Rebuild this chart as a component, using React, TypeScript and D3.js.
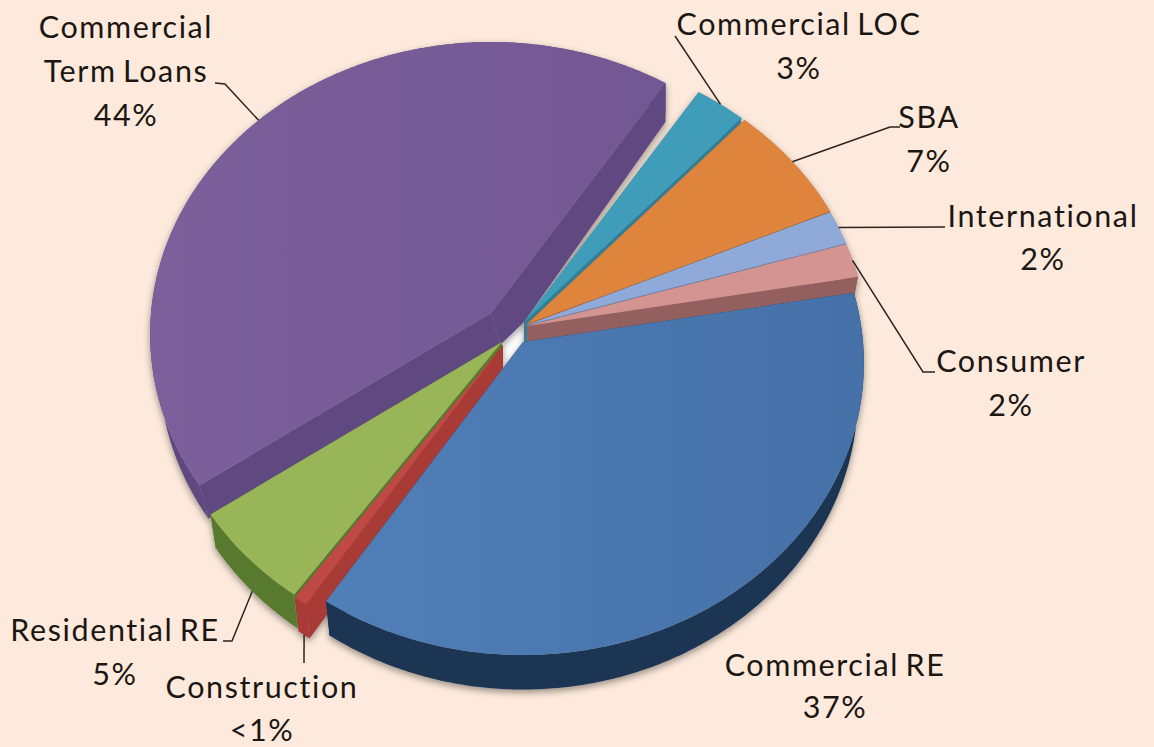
import React from "react";
import * as d3 from "d3";

// Data, clockwise from the start of the first slice
const categories = ["Commercial Term Loans", "Commercial LOC", "SBA", "International", "Consumer", "Commercial RE", "Construction", "Residential RE"];
const shares = [43.8, 2.6, 6.7, 1.9, 1.9, 36.9, 0.6, 5.6];
const percentLabels = ["44%", "3%", "7%", "2%", "2%", "37%", "<1%", "5%"];
const labelLines = [["Commercial", "Term Loans"], ["Commercial LOC"], ["SBA"], ["International"], ["Consumer"], ["Commercial RE"], ["Construction"], ["Residential RE"]];

// Styles
const topColors = ["#775c96", "#3f9db9", "#de843d", "#8fa9d8", "#d39492", "#4a76ae", "#bf4a45", "#98b558"];
const wallColors = ["#5f4880", "#2f7f97", "#a9602a", "#6d84ad", "#93605f", "#1b3453", "#a83a35", "#587a2d"];

// Layout
const W = 1154, H = 747;
const BASE = { x: 523, y: 325 };
const RX = 340, RY = 290.5, K = 0.072, DEPTH = 32;
const START_DEG = 235.3;
const explodeX = [-32, 1, 4, 4, 4, 0, -20, -21];
const explodeY = [-12, -3, -1, 0, 1, 17, 20, 17];
const baseContract = [0, 6, 6, 6, 6, 6, 6, 6];
const baseSlide = [9, 0, 0, 0, 0, 0, 0, 0];
const drawOrder = [0, 1, 2, 3, 4, 7, 6, 5];
const labelX = [126, 799, 929, 1043, 1011, 835, 262, 115];
const labelY = [38, 35, 128, 227, 372, 676, 698, 641];
const lineGap = [44, 44, 44, 43, 44, 42, 43, 44];
const elbowX = [225, null, 890, null, 923, null, 304, 232];
const elbowY = [84, null, 127, null, 372, null, 663, 641];
const lineEndX = [215, 675, 900, 945, 935, null, null, 223];
const lineEndY = [83, 36, 127, 227, 372, null, null, 641];
const anchorOnBase = [false, false, false, false, false, false, true, true];

const pie = d3.pie<number>().sort(null).value((d) => d)
  .startAngle((START_DEG * Math.PI) / 180)
  .endAngle((START_DEG * Math.PI) / 180 + 2 * Math.PI);
const arcs = pie(shares);
const line = d3.line();

function project(a: number, r: number, z: number, i: number): [number, number] {
  const u = r * Math.sin(a), v = -r * Math.cos(a), w = 1 - K * v;
  const t = (a - arcs[i].startAngle) / (arcs[i].endAngle - arcs[i].startAngle);
  const slide = r === 0 ? baseSlide[i] : baseSlide[i] * (1 - Math.pow(Math.min(1, Math.max(0, t)), 4));
  const xFlat = (RX * u) / w;
  const xz = z * (slide - (baseContract[i] * xFlat) / RX);
  return [BASE.x + explodeX[i] + xFlat + xz, BASE.y + explodeY[i] + (RY * v) / w + (z * DEPTH) / w];
}
function arcAngles(a0: number, a1: number) {
  const n = Math.max(2, Math.ceil((a1 - a0) / 0.01));
  return d3.range(n + 1).map((j) => a0 + ((a1 - a0) * j) / n);
}

export default function App() {
  const gap: [number, number][] = [
    project(0, 0, 0, 1), project(0, 0, 0, 5),
    project(0, 0, 1, 6), project(0, 0, 1, 0),
  ];
  return (
    <svg width={W} height={H} viewBox={`0 0 ${W} ${H}`} style={{ position: "fixed", left: 0, top: 0, display: "block", background: "#fdeadc" }}>
      <defs>
        <filter id="sh" x="-10%" y="-10%" width="120%" height="120%">
          <feDropShadow dx="0" dy="3" stdDeviation="3.5" floodColor="#000" floodOpacity="0.4" />
        </filter>
        <linearGradient id="gBlue" x1="0" x2="1" y1="0" y2="0">
          <stop offset="0" stopColor="#517fb8" />
          <stop offset="1" stopColor="#4570a8" />
        </linearGradient>
        <linearGradient id="gPurple" x1="0" x2="1" y1="0" y2="0">
          <stop offset="0" stopColor="#7b5f9b" />
          <stop offset="1" stopColor="#725892" />
        </linearGradient>
      </defs>
      <path d={line(gap) + "Z"} fill="#ffffff" />
      <g filter="url(#sh)">
        {drawOrder.map((i) => {
          const arc = arcs[i];
          const angles = arcAngles(arc.startAngle, arc.endAngle);
          const topRim = angles.map((a) => project(a, 1, 0, i));
          const baseRim = angles.map((a) => project(a, 1, 1, i));
          const apex = project(0, 0, 0, i);
          const apexBase = project(0, 0, 1, i);
          const wall = [...topRim, ...baseRim.slice().reverse()];
          const face0 = [apex, topRim[0], baseRim[0], apexBase];
          const face1 = i === 0
            ? [apex, topRim[topRim.length - 1], project(arc.endAngle, 1, 1.28, i), project(0, 0, 0, 1), apexBase]
            : [apex, topRim[topRim.length - 1], baseRim[baseRim.length - 1], apexBase];
          const fill = i === 5 ? "url(#gBlue)" : i === 0 ? "url(#gPurple)" : topColors[i];
          return (
            <g key={categories[i]}>
              <path d={line(wall) + "Z"} fill={wallColors[i]} />
              <path d={line(face0) + "Z"} fill={wallColors[i]} />
              <path d={line(face1) + "Z"} fill={wallColors[i]} />
              <path d={line([apex, ...topRim]) + "Z"} fill={fill} />
            </g>
          );
        })}
      </g>
      {categories.map((c, i) => {
        if (lineEndX[i] === null && elbowX[i] === null) return null;
        const mid = (arcs[i].startAngle + arcs[i].endAngle) / 2;
        const pts: [number, number][] = [project(mid, 1, anchorOnBase[i] ? 1 : 0, i)];
        if (elbowX[i] !== null) pts.push([elbowX[i] as number, elbowY[i] as number]);
        if (lineEndX[i] !== null) pts.push([lineEndX[i] as number, lineEndY[i] as number]);
        return <path key={c} d={line(pts) as string} fill="none" stroke="#2b2420" strokeWidth={1.5} />;
      })}
      <g fontFamily="Lato, 'Open Sans', sans-serif" fontSize={30.5} letterSpacing={1.6} wordSpacing={-3} fill="#1c1613" textAnchor="middle">
        {categories.map((c, i) => (
          <text key={c} x={labelX[i]} y={labelY[i]}>
            {labelLines[i].map((t, j) => (
              <tspan key={t} x={labelX[i]} y={labelY[i] + j * lineGap[i]}>{t}</tspan>
            ))}
            <tspan x={labelX[i]} y={labelY[i] + labelLines[i].length * lineGap[i]}>{percentLabels[i]}</tspan>
          </text>
        ))}
      </g>
    </svg>
  );
}
